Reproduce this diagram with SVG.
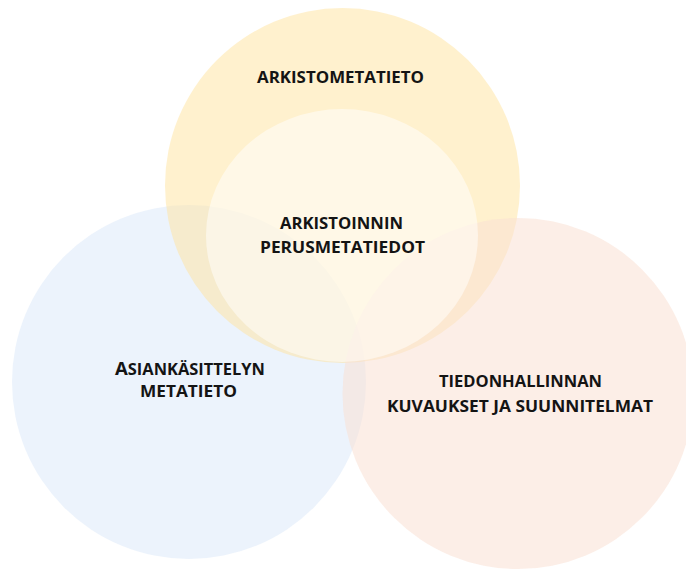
<svg xmlns="http://www.w3.org/2000/svg" width="686" height="570" viewBox="0 0 686 570">
<style>
.lbl{font-family:"Open Sans","Liberation Sans",Arial,sans-serif;font-weight:bold;font-size:15.5px;fill:#141414;text-anchor:middle}
</style>
<rect width="686" height="570" fill="#ffffff"/>
<g id="circle-blue"><circle cx="189" cy="382" r="177" fill="#DAE7F9" fill-opacity="0.5"/></g>
<g id="circle-yellow"><circle cx="342.5" cy="185.5" r="177.5" fill="#FFE39E" fill-opacity="0.5"/></g>
<g id="circle-peach"><circle cx="518" cy="393.5" r="175.5" fill="#F9E0D4" fill-opacity="0.55"/></g>
<g id="circle-inner"><ellipse cx="342" cy="235.5" rx="136" ry="126.5" fill="#ffffff" fill-opacity="0.5"/></g>
<g id="connectors"></g>
<g id="labels">
<text class="lbl" x="340.5" y="83" textLength="167" lengthAdjust="spacingAndGlyphs">ARKISTOMETATIETO</text>
<text class="lbl" x="341.5" y="229" textLength="123" lengthAdjust="spacingAndGlyphs">ARKISTOINNIN</text>
<text class="lbl" x="342.5" y="253" textLength="165" lengthAdjust="spacingAndGlyphs">PERUSMETATIEDOT</text>
<text class="lbl" x="190" y="375" textLength="150" lengthAdjust="spacingAndGlyphs"><tspan font-size="17.5">A</tspan>SIANKÄSITTELYN</text>
<text class="lbl" x="188.5" y="397" textLength="97" lengthAdjust="spacingAndGlyphs">METATIETO</text>
<text class="lbl" x="520.5" y="387" textLength="163" lengthAdjust="spacingAndGlyphs">TIEDONHALLINNAN</text>
<text class="lbl" x="520" y="412" textLength="266" lengthAdjust="spacingAndGlyphs">KUVAUKSET JA SUUNNITELMAT</text>
</g>
</svg>
